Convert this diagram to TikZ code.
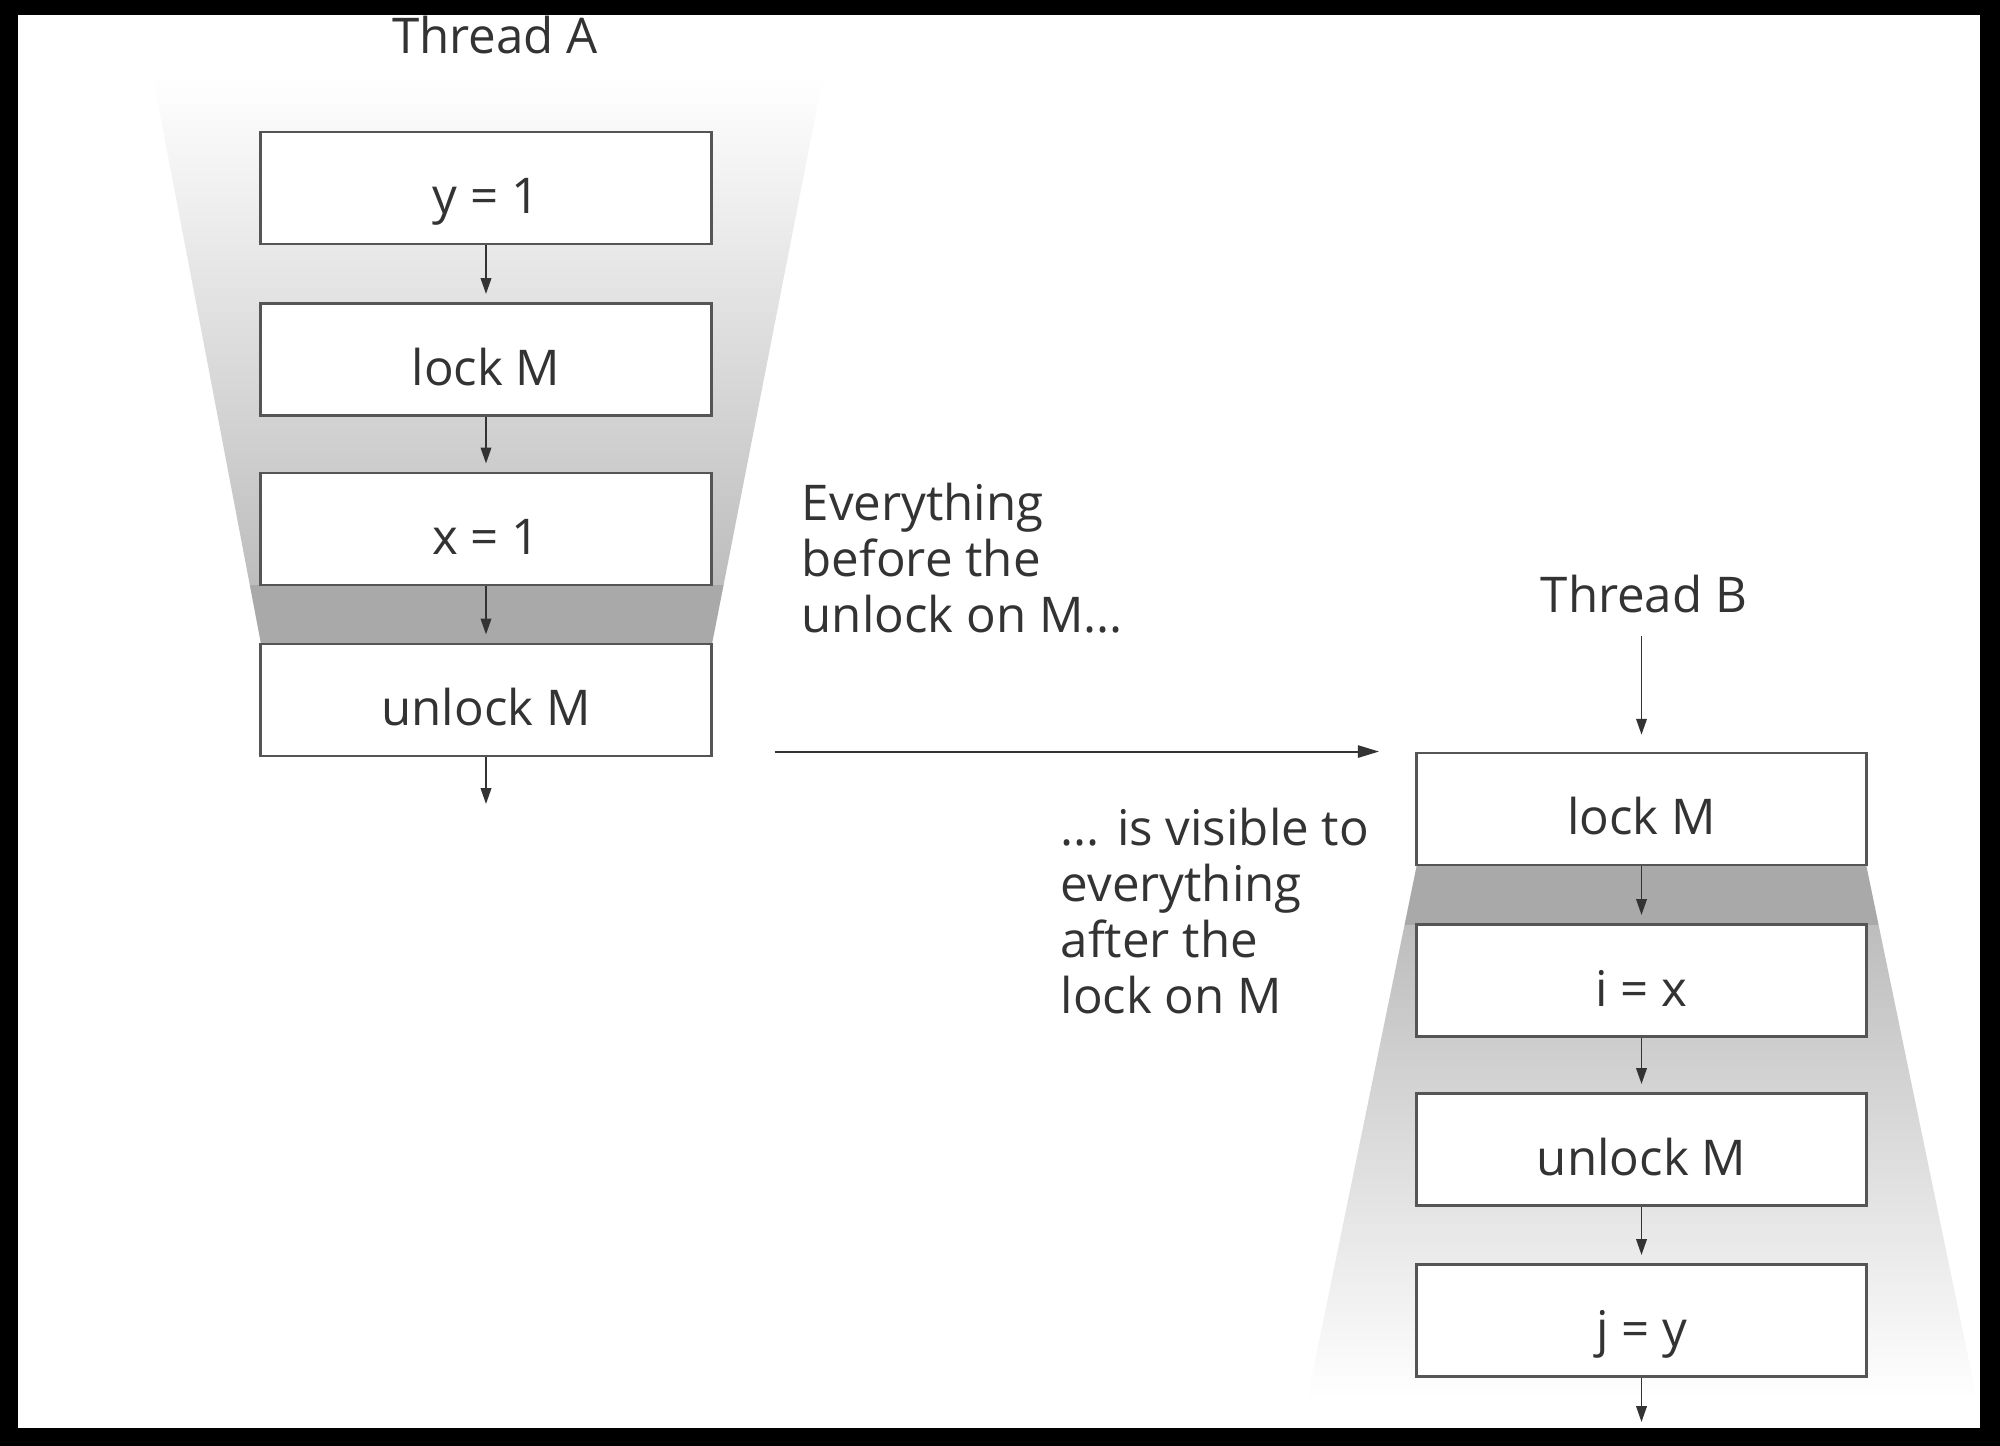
\documentclass[tikz,border=0pt]{standalone}
\usepackage{fontspec}
\setmainfont{Open Sans}
\usetikzlibrary{arrows.meta}
\definecolor{ink}{HTML}{333333}
\definecolor{frame}{HTML}{555555}
\definecolor{band}{HTML}{A9A9A9}
\definecolor{shadeA}{HTML}{BDBDBD}
\begin{document}
\begin{tikzpicture}[x=0.01cm,y=-0.01cm,
  box/.style={draw=frame, line width=0.8pt, fill=white, minimum width=4.5cm, minimum height=1.12cm,
    inner sep=0pt, text=ink, font=\fontsize{14}{16}\selectfont, text height=17.8pt, text depth=3.25pt},
  arr/.style={draw=ink, line width=0.5pt, -{Triangle[length=4.5pt,width=3pt]}},
  lbl/.style={text=ink, font=\fontsize{14}{16}\selectfont, inner sep=0pt}]
\useasboundingbox (0,0) rectangle (2000,1446);
\fill[black] (0,0) rectangle (2000,1446);
\fill[white] (18,15) rectangle (1980,1428);
% funnel A
\shade[top color=white, bottom color=shadeA] (153,77) -- (823,77) -- (723.6,585) -- (249.8,585) -- cycle;
\fill[band] (249.8,585) -- (723.6,585) -- (712,644) -- (261,644) -- cycle;
% funnel B
\fill[band] (1417,864) -- (1866,864) -- (1878.6,925) -- (1404.5,925) -- cycle;
\shade[top color=shadeA, bottom color=white] (1404.5,925) -- (1878.6,925) -- (1977,1400) -- (1307,1400) -- cycle;
% thread A
\node[lbl, anchor=base] (ta) at (495,54) {Thread A};
\node[box] (a1) at (486,188) {y = 1};
\node[box] (a2) at (486,359.5) {lock M};
\node[box] (a3) at (486,529) {x = 1};
\node[box] (a4) at (486,700) {unlock M};
\coordinate (ae) at (486,804);
\draw[arr, shorten >=2.3pt] (a1) -- (a2);
\draw[arr, shorten >=2.3pt] (a2) -- (a3);
\draw[arr, shorten >=2.3pt] (a3) -- (a4);
\draw[arr] (a4) -- (ae);
% thread B
\node[lbl, anchor=base] (tb) at (1644,612) {Thread B};
\node[box] (b1) at (1641.5,809) {lock M};
\node[box] (b2) at (1641.5,980.5) {i = x};
\node[box] (b3) at (1641.5,1149.5) {unlock M};
\node[box] (b4) at (1641.5,1320.5) {j = y};
\coordinate (be) at (1641.5,1422);
\draw[arr, shorten <=6.5pt, shorten >=4.8pt] (b1.north |- tb.south) -- (b1.north);
\draw[arr, shorten >=2.3pt] (b1) -- (b2);
\draw[arr, shorten >=2.3pt] (b2) -- (b3);
\draw[arr, shorten >=2.3pt] (b3) -- (b4);
\draw[arr] (b4) -- (be);
% happens-before arrow
\draw[draw=ink, line width=0.55pt, -{Triangle[length=6pt,width=3.5pt]}] ([xshift=0.62cm]a4.east |- b1.north) -- ([xshift=-0.36cm]b1.north west);
% labels
\node[lbl, anchor=north west, align=left] (t1) at (801,482) {Everything\\before the\\unlock on M...};
\node[lbl, anchor=north west, align=left] (t2) at (1060,807) {... is visible to\\everything\\after the\\lock on M};
\end{tikzpicture}
\end{document}
